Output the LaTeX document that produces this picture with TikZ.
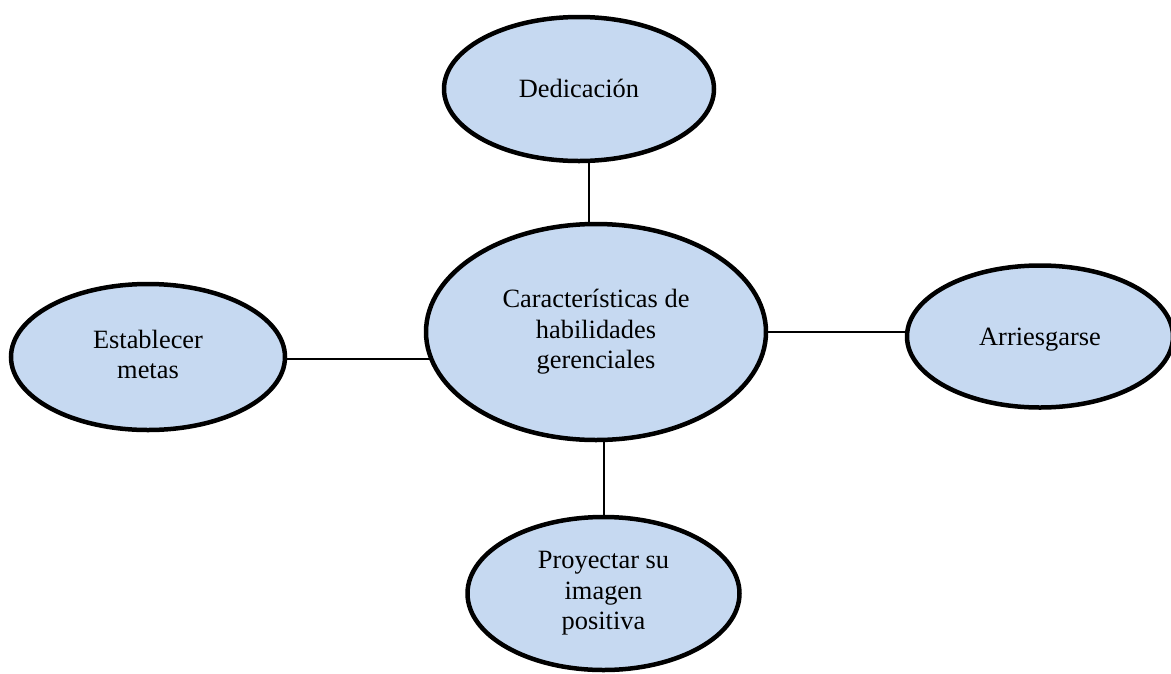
\documentclass[tikz,border=0pt]{standalone}
\usepackage{fontspec}
\setmainfont{Liberation Serif}
\usetikzlibrary{shapes.geometric,backgrounds}
\definecolor{bubblefill}{RGB}{198,217,241}
% fixed ascent/descent so every label block is centred by its line boxes
\newcommand{\linestrut}{\rule[-0.216em]{0pt}{1.107em}}
\begin{document}
\begin{tikzpicture}[x=1pt,y=-1pt,
  bubble/.style={ellipse,draw=black,line width=4.5pt,fill=bubblefill,
    inner sep=0pt,align=center,font=\fontsize{26.4}{30.4}\selectfont,
    execute at begin node=\linestrut,execute at end node=\linestrut},
  link/.style={draw=black,line width=2pt}]
\useasboundingbox (0,0) rectangle (1171,673);

% centre topic
\node[bubble,minimum width=340pt,minimum height=216pt] (cen) at (596,332)
  {Características de\\habilidades\\gerenciales};

% surrounding characteristics
\node[bubble,minimum width=270pt,minimum height=144pt] (ded) at (579,89) {Dedicación};
\node[bubble,minimum width=274pt,minimum height=146pt] (est) at (148,357) {Establecer\\metas};
\node[bubble,minimum width=266pt,minimum height=142pt] (arr) at (1040,336.5) {Arriesgarse};
\node[bubble,minimum width=272pt,minimum height=153pt] (pro) at (603.5,593.5) {Proyectar su\\imagen\\positiva};

% connectors, kept behind the filled ellipses
\begin{pgfonlayer}{background}
  \draw[link] (ded.-82) -- (ded.-82 |- cen.center);
  \draw[link] (est.-1) -- (est.-1 -| cen.center);
  \draw[link] (cen.east) -- (cen.east -| arr.center);
  \draw[link] (pro.north) -- (pro.north |- cen.center);
\end{pgfonlayer}
\end{tikzpicture}
\end{document}
